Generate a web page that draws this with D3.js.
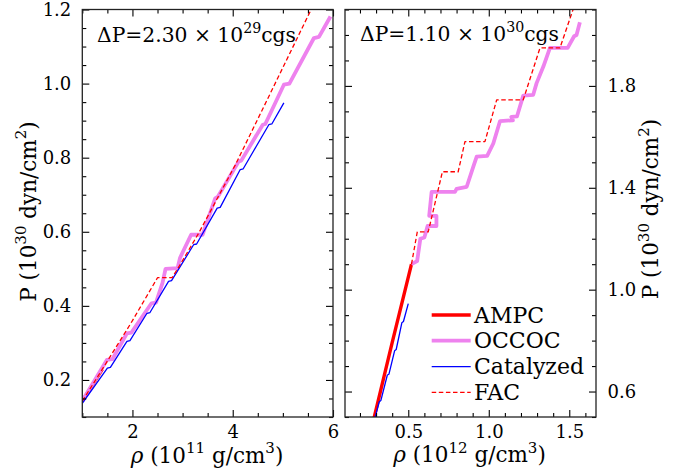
<!DOCTYPE html>
<html><head><meta charset="utf-8">
<script src="https://cdn.jsdelivr.net/npm/d3@7"></script>
<style>
body{margin:0;background:#fff;}
text{font-family:"DejaVu Serif",serif;fill:#000;}
</style></head><body>
<svg id="chart" width="684" height="473"></svg>
<script>
// ---------- DATA (rho, P) ----------
// Left panel: rho in 1e11 g/cm^3, P in 1e30 dyn/cm^2
const leftAMPC = [[1.0,0.143],[1.2,0.186],[1.4,0.229]];
const leftOCCOC = [[1.0,0.143],[1.49,0.254],[1.60,0.256],[1.89,0.326],[1.98,0.328],[2.38,0.407],[2.47,0.409],[2.60,0.462],[2.66,0.500],[2.90,0.502],[2.95,0.530],[3.17,0.592],[3.40,0.592],[3.65,0.690],[3.70,0.694],[4.12,0.790],[4.17,0.792],[4.60,0.889],[4.65,0.891],[5.02,0.997],[5.13,1.000],[5.62,1.123],[5.72,1.126],[5.95,1.181]];
const leftCatalyzed = [[1.0,0.137],[1.50,0.232],[1.56,0.234],[1.89,0.304],[1.95,0.306],[2.29,0.380],[2.35,0.382],[2.72,0.466],[2.78,0.468],[3.22,0.565],[3.28,0.567],[3.69,0.664],[3.75,0.666],[4.15,0.768],[4.21,0.770],[4.72,0.889],[4.78,0.891],[5.02,0.948]];
const leftFAC = [[1.0,0.143],[1.4,0.229],[2.0,0.360],[2.50,0.476],[2.79,0.476],[2.95,0.511],[3.32,0.596],[4.05,0.780],[4.69,0.957],[5.60,1.210]];
// Right panel: rho in 1e12 g/cm^3, P in 1e30 dyn/cm^2
const rightAMPC = [[0.285,0.490],[0.40,0.792],[0.520,1.100]];
const rightOCCOC = [[0.520,1.100],[0.555,1.112],[0.575,1.200],[0.600,1.205],[0.620,1.250],[0.675,1.250],[0.675,1.290],[0.630,1.290],[0.645,1.384],[0.790,1.384],[0.800,1.396],[0.863,1.404],[0.904,1.483],[0.925,1.522],[0.990,1.525],[1.028,1.574],[1.070,1.662],[1.150,1.665],[1.140,1.678],[1.175,1.680],[1.214,1.762],[1.276,1.765],[1.297,1.811],[1.339,1.876],[1.380,1.949],[1.490,1.949],[1.530,1.995],[1.545,2.000],[1.566,2.050]];
const rightCatalyzed = [[0.290,0.490],[0.320,0.560],[0.330,0.565],[0.370,0.665],[0.380,0.668],[0.415,0.760],[0.425,0.765],[0.460,0.870],[0.470,0.875],[0.500,0.945]];
const rightFAC = [[0.520,1.100],[0.556,1.227],[0.624,1.227],[0.712,1.463],[0.810,1.463],[0.852,1.581],[0.976,1.581],[1.049,1.745],[1.214,1.745],[1.318,1.949],[1.442,1.949],[1.540,2.130]];

const seriesNames = ["AMPC","OCCOC","Catalyzed","FAC"];
const leftXTicks = [2,4,6], leftYTicks = [0.2,0.4,0.6,0.8,1.0,1.2];
const rightXTicks = [0.5,1.0,1.5], rightYTicks = [0.6,1.0,1.4,1.8];
const leftNote = ["ΔP=2.30 × 10","29","cgs"];
const rightNote = ["ΔP=1.10 × 10","30","cgs"];

// ---------- STYLES ----------
const styles = {
  AMPC:{color:"#ff0000",width:3.4,dash:null},
  OCCOC:{color:"#ee82ee",width:3.8,dash:null},
  Catalyzed:{color:"#0000ff",width:1.3,dash:null},
  FAC:{color:"#ff0000",width:1.3,dash:"4.5,2.6"}
};

const svg = d3.select("#chart");
const B = 417, TOP = 9.5;
const FS = 18;

function range(a,b,s){const r=[];for(let v=a;v<=b+1e-9;v+=s)r.push(+v.toFixed(4));return r;}

function rich(sel, parts, fs){
  const sh = 0.42*fs;
  let up=false;
  parts.forEach(([t,sup])=>{
    const ts = sel.append("tspan").text(t);
    if(sup){ts.attr("font-size",fs*0.7).attr("dy",-sh);up=true;}
    else if(up){ts.attr("dy",sh);up=false;}
  });
}

function panel(id,x0,x1,xDom,yDom,xMaj,xMin,yMaj,yMin,xFmt,yFmt,labelSide,data){
  const x = d3.scaleLinear().domain(xDom).range([x0,x1]);
  const y = d3.scaleLinear().domain(yDom).range([B,TOP]);
  const g = svg.append("g");
  svg.append("clipPath").attr("id","clip"+id).append("rect")
    .attr("x",x0).attr("y",TOP).attr("width",x1-x0).attr("height",B-TOP);
  const lg = g.append("g").attr("clip-path","url(#clip"+id+")");
  const line = d3.line().x(d=>x(d[0])).y(d=>y(d[1]));
  seriesNames.forEach((n,i)=>{
    const s = styles[n];
    lg.append("path").datum(data[i]).attr("d",line).attr("fill","none")
      .attr("stroke",s.color).attr("stroke-width",s.width)
      .attr("stroke-dasharray",s.dash).attr("stroke-linejoin","round");
  });
  const xMinT = xMin.filter(v=>!xMaj.some(m=>Math.abs(m-v)<1e-6));
  const yMinT = yMin.filter(v=>!yMaj.some(m=>Math.abs(m-v)<1e-6));
  function ax(axisFn, scale, pos, vals, size, fmt, pad){
    const a = axisFn(scale).tickValues(vals).tickSize(size).tickPadding(pad);
    a.tickFormat(fmt?fmt:()=> "");
    const gg = g.append("g").attr("transform",pos).call(a);
    gg.select(".domain").remove();
    gg.selectAll("line").attr("stroke","#000").attr("stroke-width",1.1);
    gg.selectAll("text").attr("font-size",FS).attr("font-family","DejaVu Serif").attr("fill","#000");
    return gg;
  }
  ax(d3.axisBottom,x,`translate(0,${B})`,xMaj,-7,d3.format(xFmt),8);
  ax(d3.axisBottom,x,`translate(0,${B})`,xMinT,-4,null,8);
  ax(d3.axisTop,x,`translate(0,${TOP})`,xMaj,-7,null,8);
  ax(d3.axisTop,x,`translate(0,${TOP})`,xMinT,-4,null,8);
  ax(d3.axisLeft,y,`translate(${x0},0)`,yMaj,-7,labelSide==="left"?d3.format(yFmt):null,11);
  ax(d3.axisLeft,y,`translate(${x0},0)`,yMinT,-4,null,11);
  ax(d3.axisRight,y,`translate(${x1},0)`,yMaj,-7,labelSide==="right"?d3.format(yFmt):null,11.5);
  ax(d3.axisRight,y,`translate(${x1},0)`,yMinT,-4,null,11.5);
  g.append("rect").attr("x",x0).attr("y",TOP).attr("width",x1-x0).attr("height",B-TOP)
    .attr("fill","none").attr("stroke","#222").attr("stroke-width",1.3);
  return {x,y,g};
}

panel("L",82.3,333,[1,6],[0.1,1.2],leftXTicks,range(1,6,0.5),leftYTicks,range(0.1,1.2,0.05),"d",".1f","left",
  [leftAMPC,leftOCCOC,leftCatalyzed,leftFAC]);
panel("R",345,596,[0.107,1.666],[0.5,2.1],rightXTicks,range(0.2,1.6,0.1),rightYTicks,range(0.5,2.1,0.1),".1f",".1f","right",
  [rightAMPC,rightOCCOC,rightCatalyzed,rightFAC]);

// annotations
const NF = 20.3;
const n1 = svg.append("text").attr("x",97).attr("y",42).attr("font-size",NF);
rich(n1,[[leftNote[0],false],[leftNote[1],true],[leftNote[2],false]],NF);
const n2 = svg.append("text").attr("x",360).attr("y",41).attr("font-size",NF);
rich(n2,[[rightNote[0],false],[rightNote[1],true],[rightNote[2],false]],NF);

// axis labels
const AF = 21.5;
const xl1 = svg.append("text").attr("x",207).attr("y",462.5).attr("text-anchor","middle").attr("font-size",AF);
xl1.append("tspan").attr("font-style","italic").text("ρ");
rich(xl1,[[" (10",false],["11",true],[" g/cm",false],["3",true],[")",false]],AF);
const xl2 = svg.append("text").attr("x",469.5).attr("y",462).attr("text-anchor","middle").attr("font-size",AF);
xl2.append("tspan").attr("font-style","italic").text("ρ");
rich(xl2,[[" (10",false],["12",true],[" g/cm",false],["3",true],[")",false]],AF);

const yl1 = svg.append("text").attr("transform","translate(35.5,211.5) rotate(-90)").attr("text-anchor","middle").attr("font-size",AF);
rich(yl1,[["P (10",false],["30",true],[" dyn/cm",false],["2",true],[")",false]],AF);
const yl2 = svg.append("text").attr("transform","translate(658,209) rotate(-90)").attr("text-anchor","middle").attr("font-size",AF);
rich(yl2,[["P (10",false],["30",true],[" dyn/cm",false],["2",true],[")",false]],AF);

// legend
const LF = 22;
const legY = [315,340.7,366.7,392.3];
const leg = svg.append("g");
seriesNames.forEach((n,i)=>{
  const s = styles[n];
  leg.append("line").attr("x1",431.7).attr("x2",470.7).attr("y1",legY[i]).attr("y2",legY[i])
    .attr("stroke",s.color).attr("stroke-width",s.width).attr("stroke-dasharray",s.dash);
  leg.append("text").attr("x",474).attr("y",legY[i]+7.5).attr("font-size",LF).text(n);
});
</script>
</body></html>
